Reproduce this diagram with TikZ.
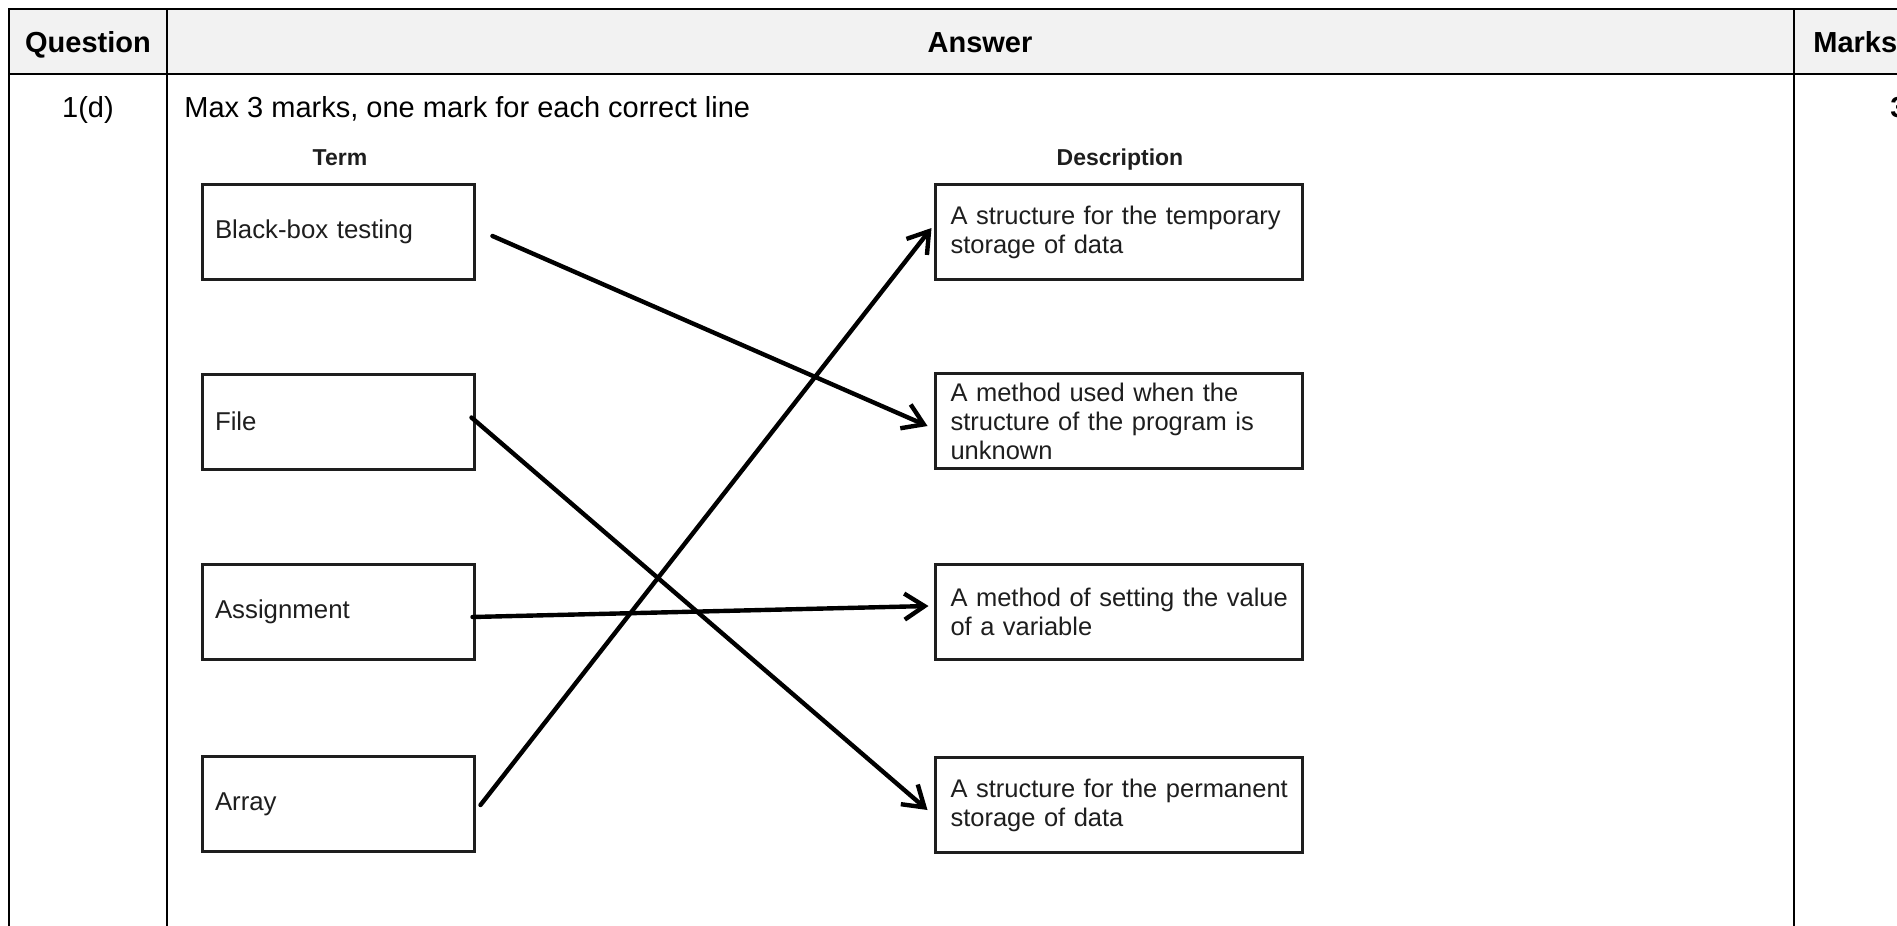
\documentclass[tikz,border=0pt]{standalone}
\usepackage{fontspec}
\setmainfont{Liberation Sans}
\usetikzlibrary{arrows.meta}
\definecolor{hdrgray}{HTML}{F2F2F2}
\definecolor{inkgray}{HTML}{1E1E1E}
\begin{document}
\begin{tikzpicture}[x=0.5pt,y=-0.5pt,
  tbl/.style={line width=1.2pt, draw=black},
  hdr/.style={font=\fontsize{14.5}{17}\selectfont\bfseries, inner sep=0pt},
  body/.style={font=\fontsize{14.5}{17}\selectfont, inner sep=0pt},
  lbl/.style={font=\fontsize{11.5}{13}\selectfont\bfseries, inner sep=0pt, text=inkgray},
  termbox/.style={draw=inkgray, line width=1.5pt, minimum width=136pt, minimum height=47.5pt, text width=123pt, inner xsep=6.5pt, inner ysep=1pt, align=left, text=inkgray, font=\fontsize{12.9}{14.5}\selectfont},
  descbox/.style={draw=inkgray, line width=1.5pt, minimum width=183.5pt, minimum height=47.5pt, text width=168pt, inner xsep=7.5pt, inner ysep=1pt, align=left, text=inkgray, font=\fontsize{12.75}{14.5}\selectfont},
  link/.style={line width=2.2pt, -{Straight Barb[length=10pt,width=13pt]}, line cap=round}
]
\clip (0,0) rectangle (1897,926);
\fill[white] (0,0) rectangle (1897,926);
% table
\fill[hdrgray] (9,9) rectangle (1897,74);
\draw[tbl] (1897,9) -- (9,9) -- (9,926);
\draw[tbl] (9,74) -- (1897,74);
\draw[tbl] (167,9) -- (167,926);
\draw[tbl] (1794,9) -- (1794,926);
% header texts
\node[hdr, anchor=base] (qh) at (88,53) {Question};
\node[hdr, anchor=base] (ah) at (980,53) {Answer};
\node[hdr, anchor=base west] (mh) at (1813,53) {Marks};
% row texts
\node[body, anchor=base] (q1) at (88,117) {1(d)};
\node[body, anchor=base west] (ans) at (184,117) {Max 3 marks, one mark for each correct line};
\node[hdr, anchor=base west] (m1) at (1890,117) {3};
% column labels
\node[lbl] (term) at (340,158) {Term};
\node[lbl] (desc) at (1120,160) {Description};
% term boxes
\node[termbox] (bb) at (338,232) {Black-box testing};
\node[termbox] (fi) at (338,421.5) {File};
\node[termbox] (as) at (338,612) {Assignment};
\node[termbox] (ar) at (338,804) {Array};
% description boxes
\node[descbox] (tmp) at (1118.5,232) {\mbox{A structure for the temporary}\\\mbox{storage of data}};
\node[descbox] (unk) at (1118.5,421) {\mbox{A method used when the}\\\mbox{structure of the program is}\\\mbox{unknown}};
\node[descbox] (set) at (1118.5,612) {\mbox{A method of setting the value}\\\mbox{of a variable}};
\node[descbox] (perm) at (1118.5,805) {\mbox{A structure for the permanent}\\\mbox{storage of data}};
% connectors
\draw[link] ([shift={(17,4)}]bb.east) -- ([shift={(-6,5)}]unk.west);
\draw[link] ([shift={(-4,-4)}]fi.east) -- ([shift={(-6,5)}]perm.west);
\draw[link] ([shift={(-3,5)}]as.east) -- ([shift={(-5,-6)}]set.west);
\draw[link] ([shift={(5,1)}]ar.east) -- ([shift={(-2,-4)}]tmp.west);
\end{tikzpicture}
\end{document}
